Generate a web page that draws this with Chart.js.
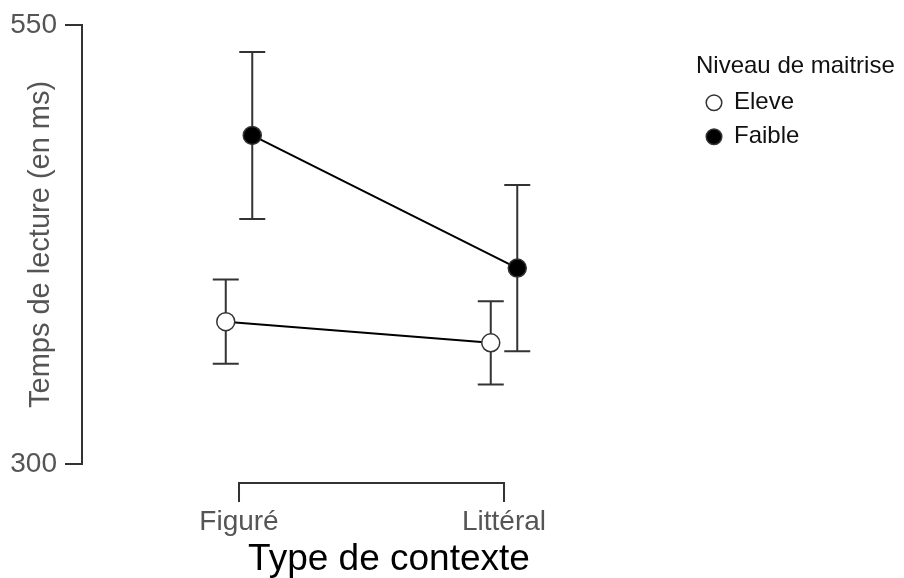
<!DOCTYPE html>
<html lang="fr">
<head>
    <meta charset="UTF-8">
    <title>Temps de lecture</title>
    <script src="https://cdn.jsdelivr.net/npm/chart.js"></script>
    <style>
        html, body { margin: 0; padding: 0; background: #fff; }
        #wrap { width: 904px; height: 578px; }
    </style>
</head>
<body>
    <div id="wrap"><canvas id="readingChart"></canvas></div>

    <script>
        // data
        const contexts = ['Figuré', 'Littéral'];
        const eleveMean = [381, 369];
        const eleveErr = [24, 23.7];
        const faibleMean = [487, 411.5];
        const faibleErr = [47.5, 47.3];
        const yTicks = [300, 550];

        const dodge = 0.05;   // groups side by side around each context
        const FONT = "'Liberation Sans', Arial, sans-serif";

        const series = [
            { label: 'Eleve', mean: eleveMean, err: eleveErr, shift: -dodge, fill: '#ffffff' },
            { label: 'Faible', mean: faibleMean, err: faibleErr, shift: dodge, fill: '#000000' }
        ];

        // error bars drawn under the points
        const errorBars = {
            id: 'errorBars',
            beforeDatasetsDraw(chart) {
                const { ctx, scales: { x, y } } = chart;
                const cap = 13;
                ctx.save();
                ctx.strokeStyle = '#333';
                ctx.lineWidth = 2;
                series.forEach(s => {
                    s.mean.forEach((m, i) => {
                        const px = x.getPixelForValue(i + s.shift);
                        const top = y.getPixelForValue(m + s.err[i]);
                        const bot = y.getPixelForValue(m - s.err[i]);
                        ctx.beginPath();
                        ctx.moveTo(px, top); ctx.lineTo(px, bot);
                        ctx.moveTo(px - cap, top); ctx.lineTo(px + cap, top);
                        ctx.moveTo(px - cap, bot); ctx.lineTo(px + cap, bot);
                        ctx.stroke();
                    });
                });
                ctx.restore();
            }
        };

        // x axis line only between the two contexts, with ticks pointing down
        const contextAxis = {
            id: 'contextAxis',
            afterDraw(chart) {
                const { ctx, scales: { x } } = chart;
                const x0 = x.getPixelForValue(0);
                const x1 = x.getPixelForValue(contexts.length - 1);
                const lineY = x.top + 19;
                const tickY = x.top + 38;
                ctx.save();
                ctx.strokeStyle = '#333';
                ctx.lineWidth = 2;
                ctx.beginPath();
                ctx.moveTo(x0, tickY);
                ctx.lineTo(x0, lineY);
                ctx.lineTo(x1, lineY);
                ctx.lineTo(x1, tickY);
                ctx.stroke();
                ctx.restore();
            }
        };

        // legend box wide enough for its title
        const legendWidth = {
            id: 'legendWidth',
            afterInit(chart) {
                const legend = chart.legend;
                const fit = legend.fit;
                legend.fit = function () {
                    fit.call(this);
                    this.width = 208;
                };
            }
        };

        const datasets = series.map(s => ({
            label: s.label,
            data: s.mean.map((m, i) => ({ x: i + s.shift, y: m })),
            borderColor: '#000',
            borderWidth: 2,
            backgroundColor: s.fill,
            pointBackgroundColor: s.fill,
            pointBorderColor: '#333',
            pointBorderWidth: 1.5,
            pointRadius: 9,
            pointHoverRadius: 9,
            tension: 0,
            clip: false
        }));

        new Chart(document.getElementById('readingChart'), {
            type: 'line',
            data: { datasets: datasets },
            plugins: [errorBars, contextAxis, legendWidth],
            options: {
                responsive: true,
                maintainAspectRatio: false,
                animation: false,
                layout: { padding: { top: 23, right: 0, bottom: 0, left: 0 } },
                plugins: {
                    tooltip: { enabled: false },
                    legend: {
                        position: 'right',
                        align: 'start',
                        title: {
                            display: true,
                            text: 'Niveau de maitrise',
                            position: 'start',
                            color: '#111',
                            font: { family: FONT, size: 24 },
                            padding: { top: 31, bottom: -2 }
                        },
                        labels: {
                            usePointStyle: true,
                            boxWidth: 16,
                            boxHeight: 11,
                            padding: 10,
                            color: '#111',
                            font: { family: FONT, size: 24 },
                            generateLabels: chart => chart.data.datasets.map((ds, i) => ({
                                text: ds.label,
                                fillStyle: ds.pointBackgroundColor,
                                strokeStyle: '#333',
                                lineWidth: 1.5,
                                pointStyle: 'circle',
                                datasetIndex: i,
                                hidden: false
                            }))
                        }
                    }
                },
                scales: {
                    x: {
                        type: 'linear',
                        min: -0.5925,
                        max: 1.7245,
                        afterBuildTicks: scale => { scale.ticks = contexts.map((c, i) => ({ value: i })); },
                        afterFit: scale => { scale.height = 114; },
                        grid: { display: false },
                        border: { display: false },
                        ticks: {
                            autoSkip: false,
                            maxRotation: 0,
                            padding: 33,
                            color: '#555',
                            font: { family: FONT, size: 28 },
                            callback: v => contexts[v]
                        },
                        title: {
                            display: true,
                            text: 'Type de contexte',
                            color: '#000',
                            font: { family: FONT, size: 37, lineHeight: 1 },
                            padding: { top: 0, bottom: 0 }
                        }
                    },
                    y: {
                        min: yTicks[0],
                        max: yTicks[yTicks.length - 1],
                        afterBuildTicks: scale => { scale.ticks = yTicks.map(v => ({ value: v })); },
                        afterFit: scale => { scale.width = 82; },
                        grid: { drawOnChartArea: false, tickLength: 17, color: '#333', lineWidth: 2 },
                        border: { display: true, color: '#333', width: 2 },
                        ticks: {
                            padding: 8,
                            color: '#555',
                            font: { family: FONT, size: 28 }
                        },
                        title: {
                            display: true,
                            text: 'Temps de lecture (en ms)',
                            color: '#555',
                            font: { family: FONT, size: 29 },
                            padding: { top: 24, bottom: 0 }
                        }
                    }
                }
            }
        });
    </script>
</body>
</html>
